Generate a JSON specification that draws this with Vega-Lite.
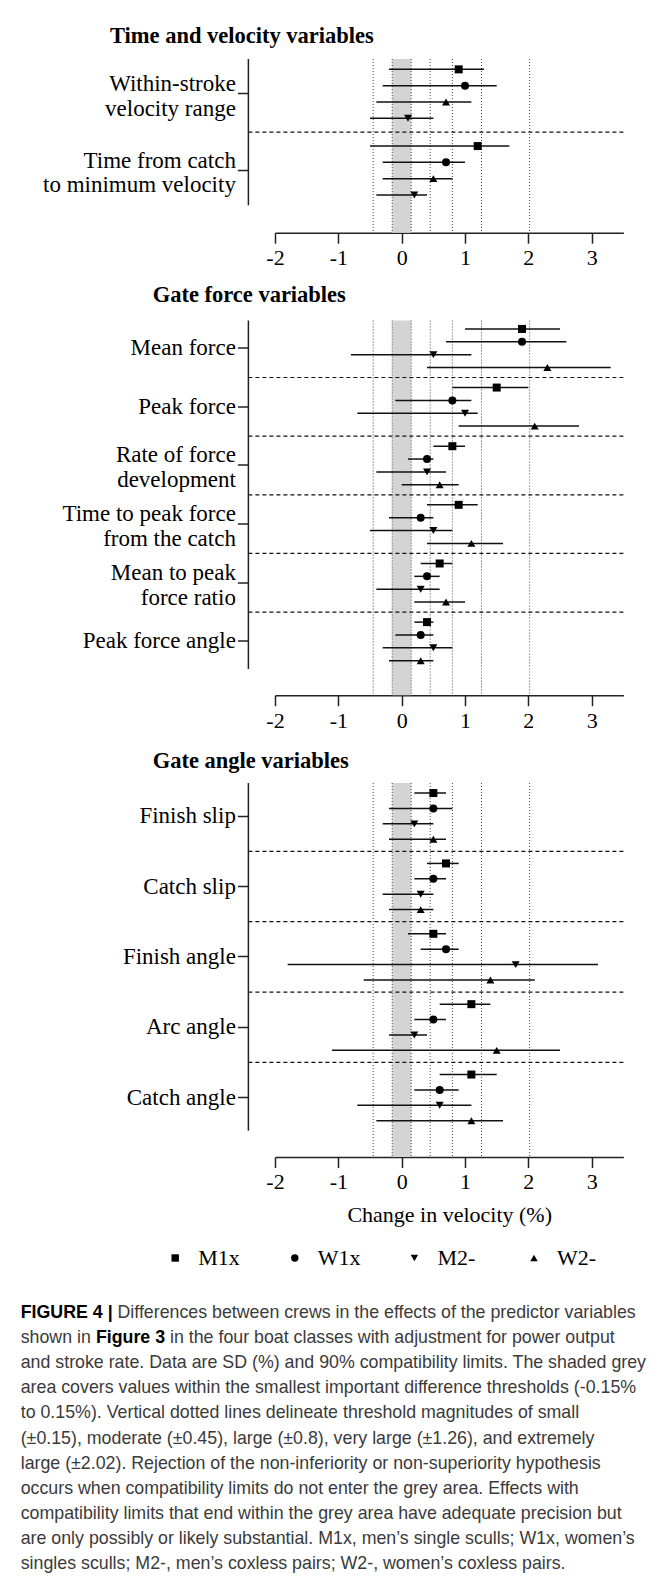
{
  "$schema": "https://vega.github.io/schema/vega-lite/v6.json",
  "padding": {"left": 20, "top": 25, "right": 0, "bottom": 0},
  "bounds": "flush",
  "spacing": 87.5,
  "datasets": {
    "p1": [
      {"var": "Within-stroke velocity range", "crew": "M1x", "est": 0.9, "lo": -0.2, "hi": 1.3},
      {"var": "Within-stroke velocity range", "crew": "W1x", "est": 1.0, "lo": -0.3, "hi": 1.5},
      {"var": "Within-stroke velocity range", "crew": "W2-", "est": 0.7, "lo": -0.4, "hi": 1.1},
      {"var": "Within-stroke velocity range", "crew": "M2-", "est": 0.1, "lo": -0.5, "hi": 0.5},
      {"var": "Time from catch to minimum velocity", "crew": "M1x", "est": 1.2, "lo": -0.5, "hi": 1.7},
      {"var": "Time from catch to minimum velocity", "crew": "W1x", "est": 0.7, "lo": -0.3, "hi": 1.0},
      {"var": "Time from catch to minimum velocity", "crew": "W2-", "est": 0.5, "lo": -0.3, "hi": 0.8},
      {"var": "Time from catch to minimum velocity", "crew": "M2-", "est": 0.2, "lo": -0.4, "hi": 0.4}
    ],
    "p2": [
      {"var": "Mean force", "crew": "M1x", "est": 1.9, "lo": 1.0, "hi": 2.5},
      {"var": "Mean force", "crew": "W1x", "est": 1.9, "lo": 0.7, "hi": 2.6},
      {"var": "Mean force", "crew": "M2-", "est": 0.5, "lo": -0.8, "hi": 1.1},
      {"var": "Mean force", "crew": "W2-", "est": 2.3, "lo": 0.4, "hi": 3.3},
      {"var": "Peak force", "crew": "M1x", "est": 1.5, "lo": 0.8, "hi": 2.0},
      {"var": "Peak force", "crew": "W1x", "est": 0.8, "lo": -0.1, "hi": 1.1},
      {"var": "Peak force", "crew": "M2-", "est": 1.0, "lo": -0.7, "hi": 1.2},
      {"var": "Peak force", "crew": "W2-", "est": 2.1, "lo": 0.9, "hi": 2.8},
      {"var": "Rate of force development", "crew": "M1x", "est": 0.8, "lo": 0.5, "hi": 1.0},
      {"var": "Rate of force development", "crew": "W1x", "est": 0.4, "lo": 0.1, "hi": 0.5},
      {"var": "Rate of force development", "crew": "M2-", "est": 0.4, "lo": -0.4, "hi": 0.7},
      {"var": "Rate of force development", "crew": "W2-", "est": 0.6, "lo": 0.0, "hi": 0.9},
      {"var": "Time to peak force from the catch", "crew": "M1x", "est": 0.9, "lo": 0.4, "hi": 1.2},
      {"var": "Time to peak force from the catch", "crew": "W1x", "est": 0.3, "lo": -0.2, "hi": 0.5},
      {"var": "Time to peak force from the catch", "crew": "M2-", "est": 0.5, "lo": -0.5, "hi": 0.8},
      {"var": "Time to peak force from the catch", "crew": "W2-", "est": 1.1, "lo": 0.4, "hi": 1.6},
      {"var": "Mean to peak force ratio", "crew": "M1x", "est": 0.6, "lo": 0.3, "hi": 0.8},
      {"var": "Mean to peak force ratio", "crew": "W1x", "est": 0.4, "lo": 0.2, "hi": 0.6},
      {"var": "Mean to peak force ratio", "crew": "M2-", "est": 0.3, "lo": -0.4, "hi": 0.6},
      {"var": "Mean to peak force ratio", "crew": "W2-", "est": 0.7, "lo": 0.2, "hi": 1.0},
      {"var": "Peak force angle", "crew": "M1x", "est": 0.4, "lo": 0.2, "hi": 0.5},
      {"var": "Peak force angle", "crew": "W1x", "est": 0.3, "lo": -0.1, "hi": 0.5},
      {"var": "Peak force angle", "crew": "M2-", "est": 0.5, "lo": -0.3, "hi": 0.8},
      {"var": "Peak force angle", "crew": "W2-", "est": 0.3, "lo": -0.2, "hi": 0.5}
    ],
    "p3": [
      {"var": "Finish slip", "crew": "M1x", "est": 0.5, "lo": 0.2, "hi": 0.7},
      {"var": "Finish slip", "crew": "W1x", "est": 0.5, "lo": -0.2, "hi": 0.8},
      {"var": "Finish slip", "crew": "M2-", "est": 0.2, "lo": -0.3, "hi": 0.5},
      {"var": "Finish slip", "crew": "W2-", "est": 0.5, "lo": -0.2, "hi": 0.7},
      {"var": "Catch slip", "crew": "M1x", "est": 0.7, "lo": 0.4, "hi": 0.9},
      {"var": "Catch slip", "crew": "W1x", "est": 0.5, "lo": 0.2, "hi": 0.7},
      {"var": "Catch slip", "crew": "M2-", "est": 0.3, "lo": -0.3, "hi": 0.5},
      {"var": "Catch slip", "crew": "W2-", "est": 0.3, "lo": -0.2, "hi": 0.5},
      {"var": "Finish angle", "crew": "M1x", "est": 0.5, "lo": 0.1, "hi": 0.7},
      {"var": "Finish angle", "crew": "W1x", "est": 0.7, "lo": 0.3, "hi": 0.9},
      {"var": "Finish angle", "crew": "M2-", "est": 1.8, "lo": -1.8, "hi": 3.1},
      {"var": "Finish angle", "crew": "W2-", "est": 1.4, "lo": -0.6, "hi": 2.1},
      {"var": "Arc angle", "crew": "M1x", "est": 1.1, "lo": 0.6, "hi": 1.4},
      {"var": "Arc angle", "crew": "W1x", "est": 0.5, "lo": 0.2, "hi": 0.7},
      {"var": "Arc angle", "crew": "M2-", "est": 0.2, "lo": -0.2, "hi": 0.4},
      {"var": "Arc angle", "crew": "W2-", "est": 1.5, "lo": -1.1, "hi": 2.5},
      {"var": "Catch angle", "crew": "M1x", "est": 1.1, "lo": 0.6, "hi": 1.5},
      {"var": "Catch angle", "crew": "W1x", "est": 0.6, "lo": 0.2, "hi": 0.9},
      {"var": "Catch angle", "crew": "M2-", "est": 0.6, "lo": -0.7, "hi": 1.1},
      {"var": "Catch angle", "crew": "W2-", "est": 1.1, "lo": -0.4, "hi": 1.6}
    ],
    "thresholds": [{"t": -0.45}, {"t": -0.15}, {"t": 0.15}, {"t": 0.45}, {"t": 0.8}, {"t": 1.26}, {"t": 2.02}]
  },
  "vconcat": [
    {
      "title": {"text": "Time and velocity variables", "anchor": "start", "frame": "group", "dx": -165, "offset": -7.3, "baseline": "alphabetic", "font": "Liberation Serif", "fontSize": 22.5, "fontWeight": "bold", "color": "#000"},
      "width": 348.4,
      "height": 173.7,
      "layer": [
        {"data": {"values": [{}]}, "mark": {"type": "rect", "color": "#d4d4d4"},
         "encoding": {"x": {"datum": -0.15, "type": "quantitative", "title": null, "scale": {"domain": [-2, 3.5], "nice": false, "zero": false}}, "x2": {"datum": 0.15}}},
        {"data": {"name": "thresholds"}, "mark": {"type": "rule", "color": "#444", "strokeWidth": 1, "strokeDash": [1, 2]},
         "encoding": {"x": {"field": "t", "type": "quantitative", "title": null, "scale": {"domain": [-2, 3.5], "nice": false, "zero": false}}}},
        {"data": {"values": [{"var": "Within-stroke velocity range"}]}, "mark": {"type": "rule", "color": "#111", "strokeWidth": 1.2, "strokeDash": [4, 3]},
         "encoding": {
           "x": {"datum": -2.42, "type": "quantitative", "title": null, "scale": {"domain": [-2, 3.5], "nice": false, "zero": false}},
           "x2": {"datum": 3.5},
           "y": {"field": "var", "type": "nominal", "bandPosition": 1.051, "title": null, "scale": {"domain": ["Within-stroke velocity range", "Time from catch to minimum velocity"], "paddingInner": 0.0926, "paddingOuter": 0.1786, "align": 0}}}},
        {"data": {"name": "p1"}, "mark": {"type": "rule", "color": "#111", "strokeWidth": 1.5},
         "encoding": {
           "x": {"field": "lo", "type": "quantitative", "title": null, "scale": {"domain": [-2, 3.5], "nice": false, "zero": false},
                 "axis": {"values": [-2, -1, 0, 1, 2, 3], "labelExpr": "'' + datum.value", "grid": false, "domainColor": "#222", "domainWidth": 1.5, "tickColor": "#222", "tickWidth": 1.5, "tickSize": 10.5, "labelFont": "Liberation Serif", "labelFontSize": 22, "labelColor": "#000", "labelPadding": 4.5, "labelFlush": false}},
           "x2": {"field": "hi"},
           "y": {"field": "var", "type": "nominal", "title": null, "scale": {"domain": ["Within-stroke velocity range", "Time from catch to minimum velocity"], "paddingInner": 0.0926, "paddingOuter": 0.1786, "align": 0},
                 "axis": {"domain": false, "ticks": true, "tickSize": 11, "tickWidth": 1.5, "tickColor": "#222", "offset": 26.6, "labelFont": "Liberation Serif", "labelFontSize": 23, "labelColor": "#000", "labelPadding": 2, "labelLimit": 400, "labelLineHeight": 25, "labelBaseline": "middle", "labelOffset": -10,
                          "labelExpr": "datum.value == 'Within-stroke velocity range' ? ['Within-stroke\u00a0', 'velocity range'] : ['Time from catch\u00a0', 'to minimum velocity']"}},
           "yOffset": {"field": "crew", "type": "nominal", "scale": {"domain": ["M1x", "W1x", "W2-", "M2-"], "paddingInner": 0, "paddingOuter": 0.135}}}},
        {"data": {"name": "p1"}, "mark": {"type": "point", "filled": true, "color": "#000", "opacity": 1, "size": 64},
         "encoding": {
           "x": {"field": "est", "type": "quantitative", "title": null, "scale": {"domain": [-2, 3.5], "nice": false, "zero": false}},
           "y": {"field": "var", "type": "nominal", "title": null, "scale": {"domain": ["Within-stroke velocity range", "Time from catch to minimum velocity"], "paddingInner": 0.0926, "paddingOuter": 0.1786, "align": 0}},
           "yOffset": {"field": "crew", "type": "nominal", "scale": {"domain": ["M1x", "W1x", "W2-", "M2-"], "paddingInner": 0, "paddingOuter": 0.135}},
           "shape": {"field": "crew", "type": "nominal", "scale": {"domain": ["M1x", "W1x", "M2-", "W2-"], "range": ["square", "circle", "triangle-down", "triangle-up"]}, "legend": null}}},
        {"data": {"values": [{}]}, "mark": {"type": "rule", "color": "#222", "strokeWidth": 1.5},
         "encoding": {
           "x": {"datum": -2.42, "type": "quantitative", "title": null, "scale": {"domain": [-2, 3.5], "nice": false, "zero": false}},
           "y": {"datum": "Within-stroke velocity range", "type": "nominal", "bandPosition": 0, "scale": {"domain": ["Within-stroke velocity range", "Time from catch to minimum velocity"], "paddingInner": 0.0926, "paddingOuter": 0.1786, "align": 0}},
           "y2": {"datum": "Time from catch to minimum velocity", "bandPosition": 1}}}
      ]
    },
    {
      "title": {"text": "Gate force variables", "anchor": "start", "frame": "group", "dx": -122.3, "offset": -4.5, "baseline": "alphabetic", "font": "Liberation Serif", "fontSize": 22.5, "fontWeight": "bold", "color": "#000"},
      "width": 348.4,
      "height": 374.7,
      "layer": [
        {"data": {"values": [{}]}, "mark": {"type": "rect", "color": "#d4d4d4"},
         "encoding": {"x": {"datum": -0.15, "type": "quantitative", "title": null, "scale": {"domain": [-2, 3.5], "nice": false, "zero": false}}, "x2": {"datum": 0.15}}},
        {"data": {"name": "thresholds"}, "mark": {"type": "rule", "color": "#444", "strokeWidth": 1, "strokeDash": [1, 2]},
         "encoding": {"x": {"field": "t", "type": "quantitative", "title": null, "scale": {"domain": [-2, 3.5], "nice": false, "zero": false}}}},
        {"data": {"values": [{"var": "Mean force"}, {"var": "Peak force"}, {"var": "Rate of force development"}, {"var": "Time to peak force from the catch"}, {"var": "Mean to peak force ratio"}]},
         "mark": {"type": "rule", "color": "#111", "strokeWidth": 1.2, "strokeDash": [4, 3]},
         "encoding": {
           "x": {"datum": -2.42, "type": "quantitative", "title": null, "scale": {"domain": [-2, 3.5], "nice": false, "zero": false}},
           "x2": {"datum": 3.5},
           "y": {"field": "var", "type": "nominal", "bandPosition": 1.029, "title": null, "scale": {"domain": ["Mean force", "Peak force", "Rate of force development", "Time to peak force from the catch", "Mean to peak force ratio", "Peak force angle"], "paddingInner": 0.0553, "paddingOuter": 0.2226, "align": 0}}}},
        {"data": {"name": "p2"}, "mark": {"type": "rule", "color": "#111", "strokeWidth": 1.5},
         "encoding": {
           "x": {"field": "lo", "type": "quantitative", "title": null, "scale": {"domain": [-2, 3.5], "nice": false, "zero": false},
                 "axis": {"values": [-2, -1, 0, 1, 2, 3], "labelExpr": "'' + datum.value", "grid": false, "domainColor": "#222", "domainWidth": 1.5, "tickColor": "#222", "tickWidth": 1.5, "tickSize": 10.5, "labelFont": "Liberation Serif", "labelFontSize": 22, "labelColor": "#000", "labelPadding": 4.5, "labelFlush": false}},
           "x2": {"field": "hi"},
           "y": {"field": "var", "type": "nominal", "title": null, "scale": {"domain": ["Mean force", "Peak force", "Rate of force development", "Time to peak force from the catch", "Mean to peak force ratio", "Peak force angle"], "paddingInner": 0.0553, "paddingOuter": 0.2226, "align": 0},
                 "axis": {"domain": false, "ticks": true, "tickSize": 11, "tickWidth": 1.5, "tickColor": "#222", "offset": 26.6, "labelFont": "Liberation Serif", "labelFontSize": 23, "labelColor": "#000", "labelPadding": 2, "labelLimit": 400, "labelLineHeight": 25, "labelBaseline": "middle",
                          "labelOffset": {"condition": {"test": "indexof(['Rate of force development', 'Time to peak force from the catch', 'Mean to peak force ratio'], datum.value) >= 0", "value": -10}, "value": 0},
                          "labelExpr": "datum.value == 'Rate of force development' ? ['Rate of force\u00a0', 'development'] : datum.value == 'Time to peak force from the catch' ? ['Time to peak force\u00a0', 'from the catch'] : datum.value == 'Mean to peak force ratio' ? ['Mean to peak\u00a0', 'force ratio'] : datum.value"}},
           "yOffset": {"field": "crew", "type": "nominal", "scale": {"domain": ["M1x", "W1x", "M2-", "W2-"], "paddingInner": 0, "paddingOuter": 0.156}}}},
        {"data": {"name": "p2"}, "mark": {"type": "point", "filled": true, "color": "#000", "opacity": 1, "size": 64},
         "encoding": {
           "x": {"field": "est", "type": "quantitative", "title": null, "scale": {"domain": [-2, 3.5], "nice": false, "zero": false}},
           "y": {"field": "var", "type": "nominal", "title": null, "scale": {"domain": ["Mean force", "Peak force", "Rate of force development", "Time to peak force from the catch", "Mean to peak force ratio", "Peak force angle"], "paddingInner": 0.0553, "paddingOuter": 0.2226, "align": 0}},
           "yOffset": {"field": "crew", "type": "nominal", "scale": {"domain": ["M1x", "W1x", "M2-", "W2-"], "paddingInner": 0, "paddingOuter": 0.156}},
           "shape": {"field": "crew", "type": "nominal", "scale": {"domain": ["M1x", "W1x", "M2-", "W2-"], "range": ["square", "circle", "triangle-down", "triangle-up"]}, "legend": null}}},
        {"data": {"values": [{}]}, "mark": {"type": "rule", "color": "#222", "strokeWidth": 1.5},
         "encoding": {
           "x": {"datum": -2.42, "type": "quantitative", "title": null, "scale": {"domain": [-2, 3.5], "nice": false, "zero": false}},
           "y": {"datum": "Mean force", "type": "nominal", "bandPosition": 0, "scale": {"domain": ["Mean force", "Peak force", "Rate of force development", "Time to peak force from the catch", "Mean to peak force ratio", "Peak force angle"], "paddingInner": 0.0553, "paddingOuter": 0.2226, "align": 0}},
           "y2": {"datum": "Peak force angle", "bandPosition": 1}}}
      ]
    },
    {
      "title": {"text": "Gate angle variables", "anchor": "start", "frame": "group", "dx": -122.3, "offset": -8, "baseline": "alphabetic", "font": "Liberation Serif", "fontSize": 22.5, "fontWeight": "bold", "color": "#000"},
      "width": 348.4,
      "height": 374,
      "layer": [
        {"data": {"values": [{}]}, "mark": {"type": "rect", "color": "#d4d4d4"},
         "encoding": {"x": {"datum": -0.15, "type": "quantitative", "title": "Change in velocity (%)", "scale": {"domain": [-2, 3.5], "nice": false, "zero": false}}, "x2": {"datum": 0.15}}},
        {"data": {"name": "thresholds"}, "mark": {"type": "rule", "color": "#444", "strokeWidth": 1, "strokeDash": [1, 2]},
         "encoding": {"x": {"field": "t", "type": "quantitative", "title": "Change in velocity (%)", "scale": {"domain": [-2, 3.5], "nice": false, "zero": false}}}},
        {"data": {"values": [{"var": "Finish slip"}, {"var": "Catch slip"}, {"var": "Finish angle"}, {"var": "Arc angle"}]},
         "mark": {"type": "rule", "color": "#111", "strokeWidth": 1.2, "strokeDash": [4, 3]},
         "encoding": {
           "x": {"datum": -2.42, "type": "quantitative", "title": "Change in velocity (%)", "scale": {"domain": [-2, 3.5], "nice": false, "zero": false}},
           "x2": {"datum": 3.5},
           "y": {"field": "var", "type": "nominal", "bandPosition": 1.0307, "title": null, "scale": {"domain": ["Finish slip", "Catch slip", "Finish angle", "Arc angle", "Catch angle"], "paddingInner": 0.0579, "paddingOuter": 0.1862, "align": 0}}}},
        {"data": {"name": "p3"}, "mark": {"type": "rule", "color": "#111", "strokeWidth": 1.5},
         "encoding": {
           "x": {"field": "lo", "type": "quantitative", "title": "Change in velocity (%)", "scale": {"domain": [-2, 3.5], "nice": false, "zero": false},
                 "axis": {"values": [-2, -1, 0, 1, 2, 3], "labelExpr": "'' + datum.value", "grid": false, "domainColor": "#222", "domainWidth": 1.5, "tickColor": "#222", "tickWidth": 1.5, "tickSize": 10.5, "labelFont": "Liberation Serif", "labelFontSize": 22, "labelColor": "#000", "labelPadding": 4.5, "labelFlush": false,
                          "titleFont": "Liberation Serif", "titleFontSize": 22, "titleFontWeight": "normal", "titleColor": "#000", "titlePadding": 12}},
           "x2": {"field": "hi"},
           "y": {"field": "var", "type": "nominal", "title": null, "scale": {"domain": ["Finish slip", "Catch slip", "Finish angle", "Arc angle", "Catch angle"], "paddingInner": 0.0579, "paddingOuter": 0.1862, "align": 0},
                 "axis": {"domain": false, "ticks": true, "tickSize": 11, "tickWidth": 1.5, "tickColor": "#222", "offset": 26.6, "labelFont": "Liberation Serif", "labelFontSize": 23, "labelColor": "#000", "labelPadding": 2, "labelLimit": 400, "labelBaseline": "middle"}},
           "yOffset": {"field": "crew", "type": "nominal", "scale": {"domain": ["M1x", "W1x", "M2-", "W2-"], "paddingInner": 0, "paddingOuter": 0.1526}}}},
        {"data": {"name": "p3"}, "mark": {"type": "point", "filled": true, "color": "#000", "opacity": 1, "size": 64},
         "encoding": {
           "x": {"field": "est", "type": "quantitative", "title": "Change in velocity (%)", "scale": {"domain": [-2, 3.5], "nice": false, "zero": false}},
           "y": {"field": "var", "type": "nominal", "title": null, "scale": {"domain": ["Finish slip", "Catch slip", "Finish angle", "Arc angle", "Catch angle"], "paddingInner": 0.0579, "paddingOuter": 0.1862, "align": 0}},
           "yOffset": {"field": "crew", "type": "nominal", "scale": {"domain": ["M1x", "W1x", "M2-", "W2-"], "paddingInner": 0, "paddingOuter": 0.1526}},
           "shape": {"field": "crew", "type": "nominal", "scale": {"domain": ["M1x", "W1x", "M2-", "W2-"], "range": ["square", "circle", "triangle-down", "triangle-up"]},
                     "legend": {"orient": "none", "legendX": -110.8, "legendY": 464, "direction": "horizontal", "columns": 4, "gridAlign": "all", "title": null, "padding": 0, "symbolSize": 55, "symbolFillColor": "#000", "symbolStrokeWidth": 0, "labelFont": "Liberation Serif", "labelFontSize": 22, "labelColor": "#000", "labelOffset": 12, "columnPadding": 42.6}}}},
        {"data": {"values": [{}]}, "mark": {"type": "rule", "color": "#222", "strokeWidth": 1.5},
         "encoding": {
           "x": {"datum": -2.42, "type": "quantitative", "title": "Change in velocity (%)", "scale": {"domain": [-2, 3.5], "nice": false, "zero": false}},
           "y": {"datum": "Finish slip", "type": "nominal", "bandPosition": 0, "scale": {"domain": ["Finish slip", "Catch slip", "Finish angle", "Arc angle", "Catch angle"], "paddingInner": 0.0579, "paddingOuter": 0.1862, "align": 0}},
           "y2": {"datum": "Catch angle", "bandPosition": 1}}}
      ]
    },
    {
      "width": 348.4,
      "height": 320,
      "layer": [
        {"data": {"values": [
          {"line": 2, "text": "shown in"},
          {"line": 3, "text": "and stroke rate. Data are SD (%) and 90% compatibility limits. The shaded grey"},
          {"line": 4, "text": "area covers values within the smallest important difference thresholds (-0.15%"},
          {"line": 5, "text": "to 0.15%). Vertical dotted lines delineate threshold magnitudes of small"},
          {"line": 6, "text": "(±0.15), moderate (±0.45), large (±0.8), very large (±1.26), and extremely"},
          {"line": 7, "text": "large (±2.02). Rejection of the non-inferiority or non-superiority hypothesis"},
          {"line": 8, "text": "occurs when compatibility limits do not enter the grey area. Effects with"},
          {"line": 9, "text": "compatibility limits that end within the grey area have adequate precision but"},
          {"line": 10, "text": "are only possibly or likely substantial. M1x, men’s single sculls; W1x, women’s"},
          {"line": 11, "text": "singles sculls; M2-, men’s coxless pairs; W2-, women’s coxless pairs."}
        ]},
         "mark": {"type": "text", "align": "left", "baseline": "middle", "font": "Liberation Sans", "fontSize": 17.8, "color": "#3a3a3a", "dx": -254.3},
         "encoding": {"x": {"value": 0}, "y": {"field": "line", "type": "quantitative", "axis": null, "scale": {"domain": [-1.7, 11], "reverse": true, "nice": false, "zero": false}}, "text": {"field": "text"}}},
        {"data": {"values": [{"line": 1, "text": "FIGURE 4 |"}]},
         "mark": {"type": "text", "align": "left", "baseline": "middle", "font": "Liberation Sans", "fontSize": 17.8, "fontWeight": "bold", "color": "#000", "dx": -254.3},
         "encoding": {"x": {"value": 0}, "y": {"field": "line", "type": "quantitative", "axis": null, "scale": {"domain": [-1.7, 11], "reverse": true, "nice": false, "zero": false}}, "text": {"field": "text"}}},
        {"data": {"values": [{"line": 1, "text": "Differences between crews in the effects of the predictor variables"}]},
         "mark": {"type": "text", "align": "left", "baseline": "middle", "font": "Liberation Sans", "fontSize": 17.8, "color": "#3a3a3a", "dx": -157.5},
         "encoding": {"x": {"value": 0}, "y": {"field": "line", "type": "quantitative", "axis": null, "scale": {"domain": [-1.7, 11], "reverse": true, "nice": false, "zero": false}}, "text": {"field": "text"}}},
        {"data": {"values": [{"line": 2, "text": "Figure 3"}]},
         "mark": {"type": "text", "align": "left", "baseline": "middle", "font": "Liberation Sans", "fontSize": 17.8, "fontWeight": "bold", "color": "#000", "dx": -179.1},
         "encoding": {"x": {"value": 0}, "y": {"field": "line", "type": "quantitative", "axis": null, "scale": {"domain": [-1.7, 11], "reverse": true, "nice": false, "zero": false}}, "text": {"field": "text"}}},
        {"data": {"values": [{"line": 2, "text": "in the four boat classes with adjustment for power output"}]},
         "mark": {"type": "text", "align": "left", "baseline": "middle", "font": "Liberation Sans", "fontSize": 17.8, "color": "#3a3a3a", "dx": -105},
         "encoding": {"x": {"value": 0}, "y": {"field": "line", "type": "quantitative", "axis": null, "scale": {"domain": [-1.7, 11], "reverse": true, "nice": false, "zero": false}}, "text": {"field": "text"}}}
      ]
    }
  ],
  "resolve": {
    "scale": {"x": "independent", "y": "independent", "yOffset": "independent", "shape": "independent"},
    "axis": {"x": "independent", "y": "independent"},
    "legend": {"shape": "independent"}
  },
  "config": {
    "view": {"stroke": null},
    "font": "Liberation Serif",
    "axis": {"grid": false}
  }
}
